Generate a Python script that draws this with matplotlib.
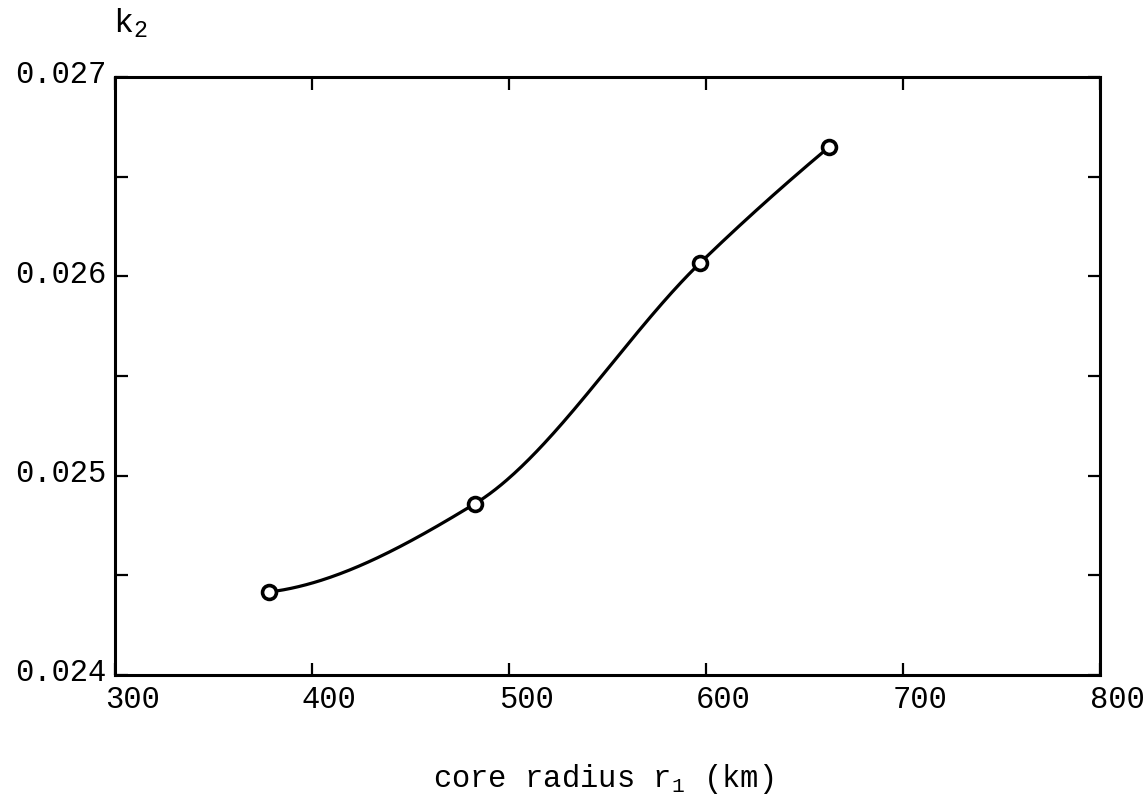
import numpy as np
import matplotlib
matplotlib.use("Agg")
import matplotlib.pyplot as plt
from matplotlib.ticker import MultipleLocator, FixedLocator
from matplotlib.transforms import ScaledTranslation

core_radius = [378, 482.5, 597, 662.5]
k2 = [0.024416, 0.024858, 0.026067, 0.026649]
x_ticks = [300, 400, 500, 600, 700, 800]
y_ticks = [0.024, 0.025, 0.026, 0.027]
y_tick_labels = ["0.024", "0.025", "0.026", "0.027"]


def pchip(x, y, n=300):
    x = np.asarray(x, float); y = np.asarray(y, float)
    h = np.diff(x); delta = np.diff(y) / h
    m = len(x); d = np.zeros(m)
    for k in range(1, m - 1):
        if delta[k - 1] * delta[k] > 0:
            w1 = 2 * h[k] + h[k - 1]; w2 = h[k] + 2 * h[k - 1]
            d[k] = (w1 + w2) / (w1 / delta[k - 1] + w2 / delta[k])
    d[0] = ((2 * h[0] + h[1]) * delta[0] - h[0] * delta[1]) / (h[0] + h[1])
    d[-1] = ((2 * h[-1] + h[-2]) * delta[-1] - h[-1] * delta[-2]) / (h[-1] + h[-2])
    xs = np.linspace(x[0], x[-1], n); ys = np.empty_like(xs)
    for j, t in enumerate(xs):
        i = min(np.searchsorted(x, t, side="right") - 1, m - 2)
        s = (t - x[i]) / h[i]
        h00 = 2 * s**3 - 3 * s**2 + 1; h10 = s**3 - 2 * s**2 + s
        h01 = -2 * s**3 + 3 * s**2; h11 = s**3 - s**2
        ys[j] = h00 * y[i] + h10 * h[i] * d[i] + h01 * y[i + 1] + h11 * h[i] * d[i + 1]
    return xs, ys


font = "Liberation Mono"
W, H = 1147, 797
fig = plt.figure(figsize=(W / 100, H / 100), dpi=100)
left, right, top, bottom = 115, 1100, 77, 675
ax = fig.add_axes([left / W, 1 - bottom / H, (right - left) / W, (bottom - top) / H])

xs, ys = pchip(core_radius, k2)
ax.plot(xs, ys, color="black", lw=2.3)
ax.plot(core_radius, k2, "o", ms=10, mfc="white", mec="black", mew=2.6)

ax.set_xlim(300, 800)
ax.set_ylim(0.024, 0.027)
ax.xaxis.set_major_locator(FixedLocator(x_ticks))
ax.set_xticklabels([str(v) for v in x_ticks], family=font, fontsize=22)
ax.yaxis.set_major_locator(FixedLocator(y_ticks))
ax.set_yticklabels(y_tick_labels, family=font, fontsize=22)
ax.yaxis.set_minor_locator(MultipleLocator(0.0005))
ax.tick_params(which="both", direction="in", top=True, right=True, length=9, width=1.6, color="black")
ax.tick_params(axis="x", pad=7)
ax.tick_params(axis="y", pad=6)
for lab in ax.get_xticklabels():
    lab.set_transform(lab.get_transform() + ScaledTranslation(17 / 100, 0, fig.dpi_scale_trans))
for lab in ax.get_yticklabels():
    lab.set_transform(lab.get_transform() + ScaledTranslation(0, 5 / 100, fig.dpi_scale_trans))
for s in ax.spines.values():
    s.set_linewidth(2.2)

fig.text(113 / W, 1 - 33 / H, r"$\mathregular{k_2}$", fontsize=24, family=font, va="baseline")
fig.text(603 / W, 1 - 787 / H, r"core radius $\mathregular{r_1}$ (km)", fontsize=22, family=font,
         ha="center", va="baseline")

fig.savefig("out.png", dpi=100)
